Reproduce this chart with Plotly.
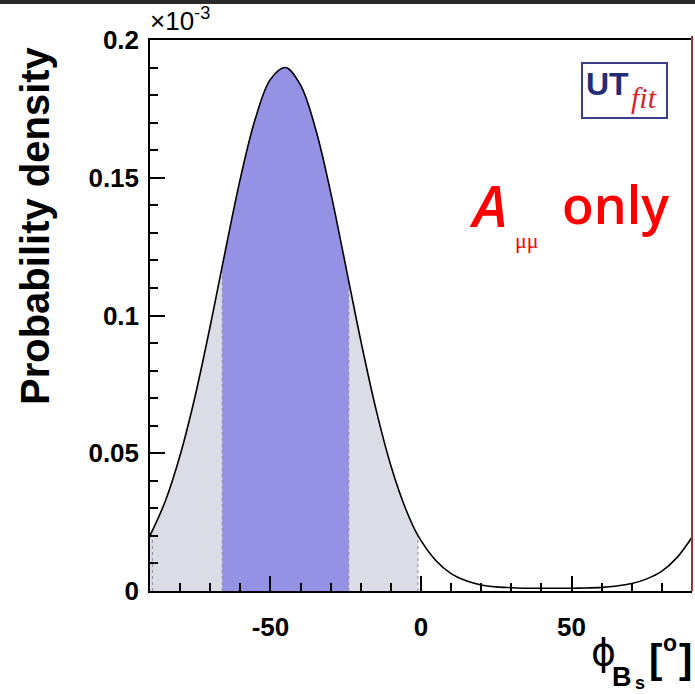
import plotly.graph_objects as go

# ---- data (density in units of 1e-3) ----
phi_deg = [-90, -85, -80, -75, -70, -66, -60, -55, -50, -45, -40, -35, -30, -24, -20,
           -15, -10, -5, -1, 5, 10, 15, 20, 25, 30, 35, 40, 45, 50, 55, 60, 65, 70,
           75, 80, 85, 90]
density = [0.0201, 0.0324, 0.0493, 0.0708, 0.0962, 0.1180, 0.1497, 0.1715, 0.1857,
           0.1900, 0.1836, 0.1677, 0.1447, 0.1125, 0.0909, 0.0662, 0.0455, 0.0296,
           0.0201, 0.0110, 0.0063, 0.0037, 0.0022, 0.0015, 0.0012, 0.0010, 0.0010,
           0.0010, 0.0010, 0.0011, 0.0013, 0.0018, 0.0027, 0.0044, 0.0072, 0.0121,
           0.0195]
interval_95 = [-90, -1]
interval_68 = [-66, -24]
x_ticks = [-50, 0, 50]
y_ticks = [0, 0.05, 0.1, 0.15, 0.2]

W, H = 695, 694
L, R, T, B = 150, 3, 40, 103
PW, PH = W - L - R, H - T - B


def xp(px):
    return (px - L) / PW


def yp(py):
    return (H - B - py) / PH


def subset(lo, hi):
    xs = [x for x in phi_deg if lo <= x <= hi]
    ys = [y for x, y in zip(phi_deg, density) if lo <= x <= hi]
    return xs, ys


LIGHT = "#dcdce7"
DARK = "#9591e4"

fig = go.Figure()
x95, y95 = subset(*interval_95)
fig.add_trace(go.Scatter(x=x95, y=y95, mode="lines", line=dict(width=0, shape="spline"),
                         fill="tozeroy", fillcolor=LIGHT, hoverinfo="skip"))
x68, y68 = subset(*interval_68)
fig.add_trace(go.Scatter(x=x68, y=y68, mode="lines", line=dict(width=0, shape="spline"),
                         fill="tozeroy", fillcolor=DARK, hoverinfo="skip"))
# dotted boundaries
for xb in interval_95 + interval_68:
    yb = density[phi_deg.index(xb)]
    xb_draw = xb + 0.8 if xb == -90 else xb
    fig.add_trace(go.Scatter(x=[xb_draw, xb_draw], y=[0, yb], mode="lines",
                             line=dict(color="#8a8aa0", width=1, dash="dot"),
                             hoverinfo="skip"))
fig.add_trace(go.Scatter(x=phi_deg, y=density, mode="lines",
                         line=dict(color="black", width=1.6, shape="spline")))

tickfont = dict(family="Liberation Sans, Arial", size=26, color="black", weight="bold")

fig.update_layout(
    width=W, height=H, margin=dict(l=L, r=R, t=T, b=B),
    paper_bgcolor="white", plot_bgcolor="white", showlegend=False,
    xaxis=dict(range=[-90, 90], tickvals=x_ticks, ticktext=[str(v) for v in x_ticks],
               ticks="inside", ticklen=15, tickwidth=1.5, tickcolor="black",
               minor=dict(dtick=10, ticks="inside", ticklen=8, tickwidth=1.5, tickcolor="black"),
               showline=True, linecolor="black", linewidth=1.5, mirror=True,
               showgrid=False, zeroline=False, tickfont=tickfont, layer="above traces",
               ticklabelstandoff=12),
    yaxis=dict(range=[0, 0.2], tickvals=y_ticks, ticktext=["0", "0.05", "0.1", "0.15", "0.2"],
               ticks="inside", ticklen=15, tickwidth=1.5, tickcolor="black",
               minor=dict(dtick=0.01, ticks="inside", ticklen=8, tickwidth=1.5, tickcolor="black"),
               showline=True, linecolor="black", linewidth=1.5,
               showgrid=False, zeroline=False, tickfont=tickfont, layer="above traces",
               ticklabelstandoff=4),
)

ann = []
# y axis title
ann.append(dict(text="Probability density", x=xp(35), y=yp(226), xref="paper", yref="paper",
                textangle=-90, showarrow=False, xanchor="center", yanchor="middle",
                font=dict(family="Liberation Sans, Arial", size=40, color="black", weight="bold")))
# exponent
ann.append(dict(text="×10<sup>-3</sup>", x=xp(148), y=yp(38), xref="paper", yref="paper",
                showarrow=False, xanchor="left", yanchor="bottom",
                font=dict(family="Liberation Sans, Arial", size=26, color="black")))
# x axis title pieces
xt = [("ϕ", 603, 652, 38, "DejaVu Sans", "normal"),
      ("B", 622, 677, 27, "Liberation Sans", "bold"),
      ("s", 640, 683, 18, "Liberation Sans", "bold"),
      ("[", 655, 659, 40, "Liberation Sans", "bold"),
      ("o", 670, 643, 23, "Liberation Sans", "bold"),
      ("]", 685, 659, 40, "Liberation Sans", "bold")]
for t, px, py, sz, fam, wt in xt:
    ann.append(dict(text=t, x=xp(px), y=yp(py), xref="paper", yref="paper", showarrow=False,
                    xanchor="center", yanchor="middle",
                    font=dict(family=fam, size=sz, color="black", weight=wt)))
# red label
ann.append(dict(text="<i>A</i>", x=xp(488), y=yp(204), xref="paper", yref="paper",
                showarrow=False, xanchor="center", yanchor="middle",
                font=dict(family="Open Sans", size=58, color="#ff0000", weight=600)))
ann.append(dict(text="μμ", x=xp(527), y=yp(240), xref="paper", yref="paper",
                showarrow=False, xanchor="center", yanchor="middle",
                font=dict(family="Liberation Serif", size=22, color="#ff0000")))
ann.append(dict(text="only", x=xp(615), y=yp(203), xref="paper", yref="paper",
                showarrow=False, xanchor="center", yanchor="middle",
                font=dict(family="Open Sans", size=52, color="#ff0000", weight=600)))
# logo
ann.append(dict(text="UT", x=xp(607), y=yp(84), xref="paper", yref="paper",
                showarrow=False, xanchor="center", yanchor="middle",
                font=dict(family="Liberation Sans", size=32, color="#262b78", weight="bold")))
ann.append(dict(text="<i>fit</i>", x=xp(644), y=yp(97), xref="paper", yref="paper",
                showarrow=False, xanchor="center", yanchor="middle",
                font=dict(family="Liberation Serif", size=30, color="#d0262c")))
fig.update_layout(annotations=ann)

shapes = [
    dict(type="rect", xref="paper", yref="paper", x0=xp(582), x1=xp(667), y0=yp(118), y1=yp(63),
         line=dict(color="#3a3f88", width=2), fillcolor="rgba(0,0,0,0)", layer="below"),
    dict(type="line", xref="paper", yref="paper", x0=xp(692), x1=xp(692), y0=yp(591), y1=yp(36),
         line=dict(color="#a5322c", width=2)),
    dict(type="rect", xref="paper", yref="paper", x0=xp(0), x1=xp(695), y0=yp(4), y1=yp(0),
         line=dict(width=0), fillcolor="#2a2a2a"),
]
fig.update_layout(shapes=shapes)

fig.write_html("out.html")
